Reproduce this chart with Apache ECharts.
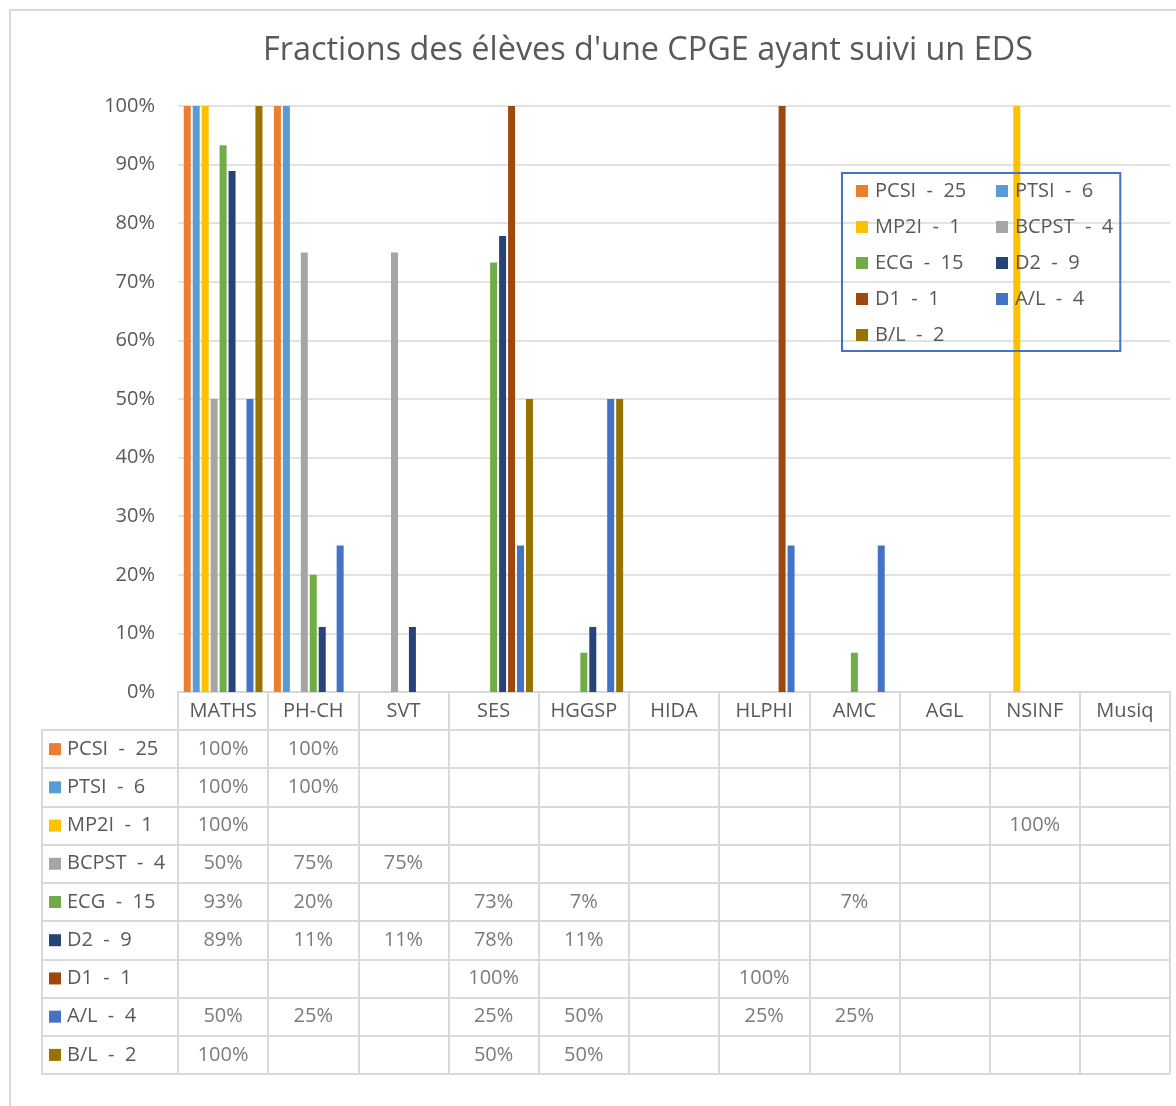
<!DOCTYPE html>
<html>
<head>
<meta charset="utf-8">
<script src="https://cdn.jsdelivr.net/npm/echarts@6/dist/echarts.min.js"></script>
<style>
html,body{margin:0;padding:0;background:#fff;}
#frame{position:absolute;left:9px;top:9px;width:1180px;height:1110px;border:2px solid #d9d9d9;box-sizing:border-box;}
#main{position:absolute;left:0;top:0;width:1176px;height:1106px;}
</style>
</head>
<body>
<div id="frame"></div>
<div id="main"></div>
<script>
// ---- data ----
const title = "Fractions des élèves d'une CPGE ayant suivi un EDS";
const categories = ["MATHS","PH-CH","SVT","SES","HGGSP","HIDA","HLPHI","AMC","AGL","NSINF","Musiq"];
const seriesNames = ["PCSI  -  25","PTSI  -  6","MP2I  -  1","BCPST  -  4","ECG  -  15","D2  -  9","D1  -  1","A/L  -  4","B/L  -  2"];
const colors = ["#ED7D31","#5B9BD5","#FFC000","#A5A5A5","#70AD47","#264478","#9E480E","#4472C4","#997300"];
const pcsi  = [100, 100, null, null, null, null, null, null, null, null, null];
const ptsi  = [100, 100, null, null, null, null, null, null, null, null, null];
const mp2i  = [100, null, null, null, null, null, null, null, null, 100, null];
const bcpst = [50, 75, 75, null, null, null, null, null, null, null, null];
const ecg   = [93.3, 20, null, 73.3, 6.7, null, null, 6.7, null, null, null];
const d2    = [88.9, 11.1, 11.1, 77.8, 11.1, null, null, null, null, null, null];
const d1    = [null, null, null, 100, null, null, 100, null, null, null, null];
const al    = [50, 25, null, 25, 50, null, 25, 25, null, null, null];
const bl    = [100, null, null, 50, 50, null, null, null, null, null, null];
const yTicks = [0,10,20,30,40,50,60,70,80,90,100];
const allValues = [pcsi, ptsi, mp2i, bcpst, ecg, d2, d1, al, bl];

// ---- chart ----
const FONT = 'Open Sans';
const FS = 20;
const TXT = '#595959';
const LINE = '#d9d9d9';
const chart = echarts.init(document.getElementById('main'), null, {renderer:'canvas'});

const barSeries = allValues.map((vals, i) => ({
  name: seriesNames[i],
  type: 'bar',
  xAxisIndex: 0, yAxisIndex: 0,
  data: vals,
  barWidth: 7,
  barGap: '28%',
  itemStyle: {color: colors[i]},
  emphasis: {disabled: true}
}));

const cellData = [];
allValues.forEach((vals, i) => {
  vals.forEach((v, j) => {
    if (v !== null) cellData.push([j, i, v]);
  });
});

const rich = {t: {fontFamily: FONT, fontSize: FS, color: TXT, padding: [0,0,0,6]}};
colors.forEach((c, i) => { rich['k' + i] = {backgroundColor: c, width: 12, height: 12}; });

const legendCol1 = seriesNames.filter((n, i) => i % 2 === 0);
const legendCol2 = seriesNames.filter((n, i) => i % 2 === 1);
const legendBase = {
  orient: 'vertical', top: 173,
  itemWidth: 12, itemHeight: 12, itemGap: 16,
  icon: 'rect',
  textStyle: {fontFamily: FONT, fontSize: FS, color: TXT, padding: [0,0,0,2]},
  selectedMode: false
};

chart.setOption({
  animation: false,
  textStyle: {fontFamily: FONT},
  title: {
    text: title, left: 643, top: 30, textAlign: 'center',
    textStyle: {fontFamily: FONT, fontSize: 32.4, fontWeight: 'normal', color: TXT}
  },
  legend: [
    Object.assign({}, legendBase, {
      data: legendCol1, left: 842,
      padding: [8, 154, 6, 14],
      borderColor: '#4472C4', borderWidth: 2
    }),
    Object.assign({}, legendBase, {
      data: legendCol2, left: 996,
      padding: [8, 0, 6, 0]
    })
  ],
  grid: [
    {left: 178, right: 6, top: 106, bottom: 414, outerBoundsMode: 'none'},
    {left: 178, right: 6, top: 730, height: 344, outerBoundsMode: 'none'},
    {left: 42, width: 136, top: 730, height: 344, outerBoundsMode: 'none'}
  ],
  xAxis: [
    {type: 'category', gridIndex: 0, data: categories,
     axisLine: {lineStyle: {color: LINE, width: 2}},
     axisTick: {show: true, length: 38, lineStyle: {color: LINE, width: 2}},
     axisLabel: {color: TXT, fontSize: FS, fontFamily: FONT, margin: 9, interval: 0}},
    {type: 'category', gridIndex: 1, data: categories,
     axisLine: {show: false}, axisTick: {show: false}, axisLabel: {show: false},
     splitLine: {show: true, interval: 0, lineStyle: {color: LINE, width: 2}}},
    {type: 'value', gridIndex: 2, show: false, min: 0, max: 1}
  ],
  yAxis: [
    {type: 'value', gridIndex: 0, min: 0, max: 100, interval: 10,
     axisLabel: {formatter: '{value}%', color: TXT, fontSize: FS, fontFamily: FONT, margin: 23},
     axisLine: {show: false}, axisTick: {show: false},
     splitLine: {lineStyle: {color: LINE, width: 1.5}}},
    {type: 'category', gridIndex: 1, data: seriesNames, inverse: true,
     axisLine: {show: false}, axisTick: {show: false}, axisLabel: {show: false},
     splitLine: {show: true, interval: 0, lineStyle: {color: LINE, width: 2}}},
    {type: 'category', gridIndex: 2, data: seriesNames, inverse: true,
     axisLine: {show: true, lineStyle: {color: LINE, width: 2}}, axisTick: {show: false},
     axisLabel: {inside: true, margin: 7, interval: 0,
       formatter: (val, idx) => '{k' + idx + '|}{t|' + val + '}', rich: rich},
     splitLine: {show: true, interval: 0, lineStyle: {color: LINE, width: 2}}}
  ],
  series: barSeries.concat([{
    type: 'scatter', name: 'table',
    xAxisIndex: 1, yAxisIndex: 1,
    data: cellData,
    symbolSize: 1,
    itemStyle: {color: 'rgba(0,0,0,0)'},
    silent: true,
    label: {show: true, position: 'inside', color: TXT, fontSize: FS, fontFamily: FONT,
      formatter: p => Math.round(p.value[2]) + '%'}
  }])
});
</script>
</body>
</html>
